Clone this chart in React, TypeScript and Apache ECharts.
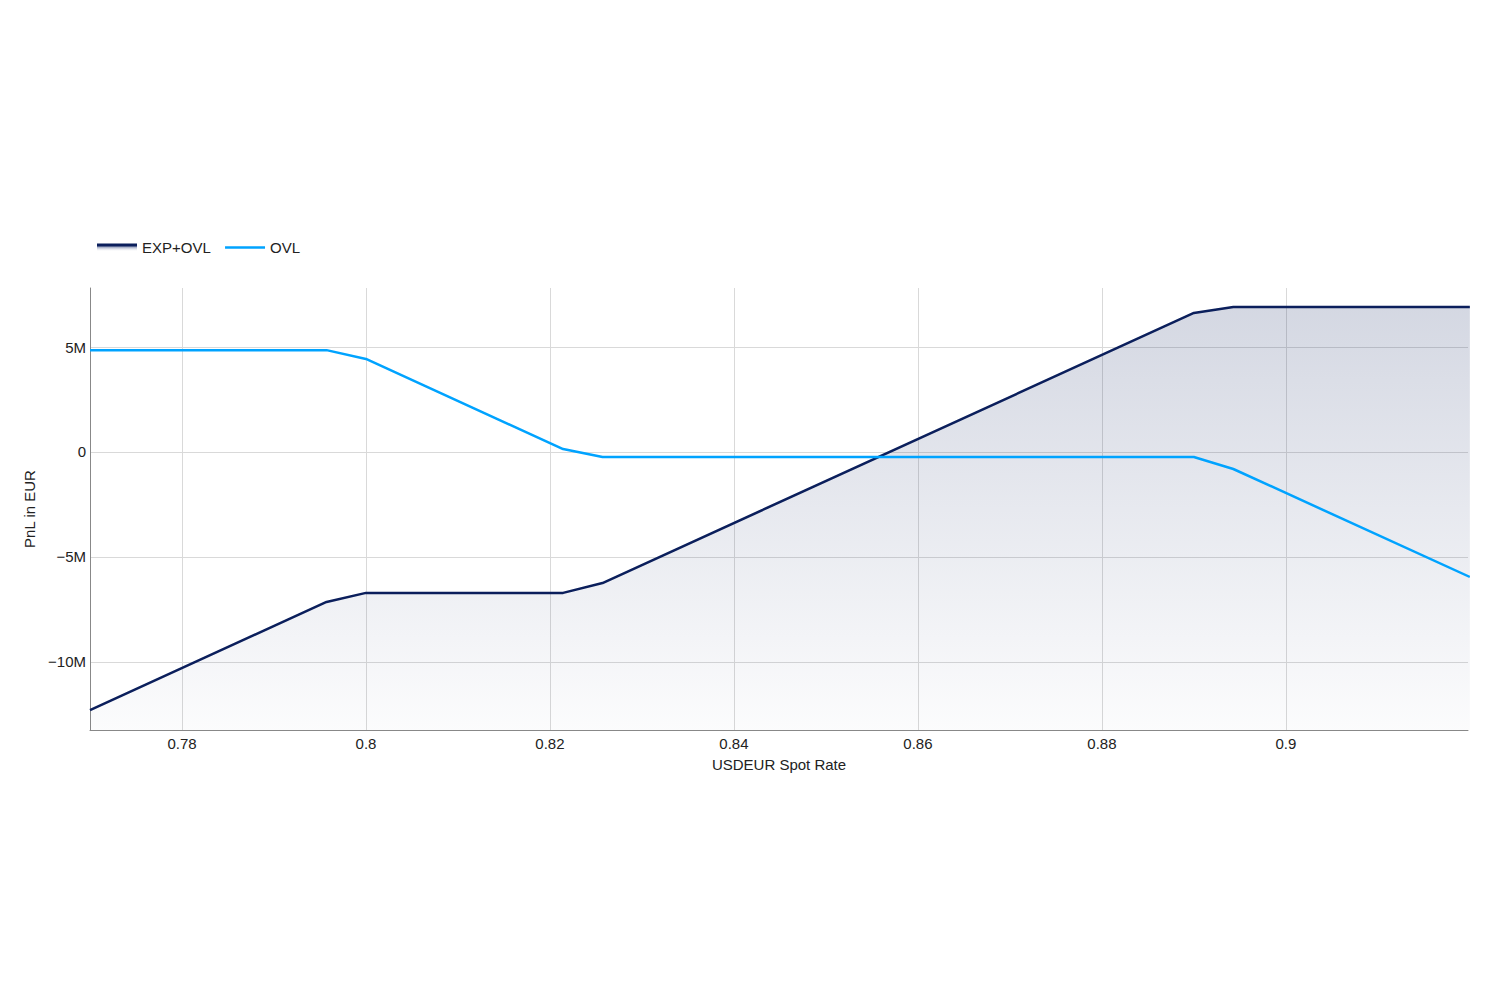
import React, { useEffect, useRef } from "react";
import * as echarts from "echarts";

const spotRates = [0.77, 0.795714, 0.8, 0.821429, 0.825714, 0.89, 0.894286, 0.92];
const expOvlPnl = [-12.29, -7.14, -6.71, -6.71, -6.24, 6.62, 6.9, 6.9]; // millions EUR
const ovlPnl = [4.85, 4.85, 4.43, 0.14, -0.24, -0.24, -0.81, -5.95]; // millions EUR
const xTickValues = [0.78, 0.8, 0.82, 0.84, 0.86, 0.88, 0.9];
const seriesNames = ["EXP+OVL", "OVL"];

const FONT = "'Liberation Sans', Arial, sans-serif";
const DARK = "#0b1f5c";
const LIGHT = "#00a3ff";

export default function App() {
  const ref = useRef<HTMLDivElement>(null);
  useEffect(() => {
    if (!ref.current) return;
    const chart = echarts.init(ref.current, undefined, { renderer: "svg" });
    const toPairs = (vals: number[]) => spotRates.map((x, i) => [x, vals[i] * 1e6]);
    chart.setOption({
      animation: false,
      textStyle: { fontFamily: FONT },
      grid: { left: 90, right: 32, top: 288, bottom: 270, containLabel: false },
      legend: {
        left: 92,
        top: 235,
        itemGap: 13,
        itemWidth: 40,
        itemHeight: 8,
        textStyle: { fontFamily: FONT, fontSize: 15, color: "#222" },
        data: [
          {
            name: seriesNames[0],
            icon: "rect",
            itemStyle: {
              color: new echarts.graphic.LinearGradient(0, 0, 0, 1, [
                { offset: 0, color: DARK },
                { offset: 0.3, color: DARK },
                { offset: 0.45, color: "#9ea7c2" },
                { offset: 1, color: "rgba(255,255,255,0)" },
              ]),
              borderWidth: 0,
            },
          },
          {
            name: seriesNames[1],
            itemStyle: { color: "rgba(0,0,0,0)", borderWidth: 0, opacity: 0 },
            lineStyle: { color: LIGHT, width: 2.5, opacity: 1 },
          },
        ],
      },
      xAxis: {
        type: "value",
        min: 0.77,
        max: 0.9198,
        splitNumber: 7,
        name: "USDEUR Spot Rate",
        nameLocation: "middle",
        nameGap: 27,
        nameTextStyle: { fontFamily: FONT, fontSize: 15, color: "#222" },
        axisLine: { show: true, onZero: false, lineStyle: { color: "#888", width: 1 } },
        axisTick: { show: false },
        axisLabel: {
          fontFamily: FONT,
          fontSize: 15,
          color: "#222",
          margin: 6,
          showMinLabel: false,
          showMaxLabel: false,
          formatter: (v: number) => (xTickValues.some((t) => Math.abs(t - v) < 1e-6) ? String(+v.toFixed(2)) : ""),
        },
        splitLine: { show: true, showMinLine: false, showMaxLine: false, lineStyle: { color: "#d9d9d9", width: 1 } },
      },
      yAxis: {
        type: "value",
        min: -13.24e6,
        max: 7.81e6,
        name: "PnL in EUR",
        nameLocation: "middle",
        nameGap: 52,
        nameTextStyle: { fontFamily: FONT, fontSize: 15, color: "#222" },
        axisLine: { show: true, lineStyle: { color: "#888", width: 1 } },
        axisTick: { show: false },
        axisLabel: {
          fontFamily: FONT,
          fontSize: 15,
          color: "#222",
          margin: 4,
          showMinLabel: false,
          showMaxLabel: false,
          formatter: (v: number) => {
            if (v === 0) return "0";
            const m = Math.round(v / 1e6);
            return (m < 0 ? "\u2212" + Math.abs(m) : String(m)) + "M";
          },
        },
        splitLine: { show: true, showMinLine: false, showMaxLine: false, lineStyle: { color: "#d9d9d9", width: 1 } },
      },
      series: [
        {
          name: seriesNames[0],
          type: "line",
          data: toPairs(expOvlPnl),
          symbol: "none",
          lineStyle: { color: DARK, width: 2.5 },
          itemStyle: { color: DARK },
          areaStyle: {
            origin: "start",
            color: new echarts.graphic.LinearGradient(0, 0, 0, 1, [
              { offset: 0, color: "rgba(11,31,92,0.25)" },
              { offset: 1, color: "rgba(11,31,92,0.02)" },
            ]),
          },
          z: 2,
        },
        {
          name: seriesNames[1],
          type: "line",
          data: toPairs(ovlPnl),
          symbol: "none",
          lineStyle: { color: LIGHT, width: 2.5 },
          itemStyle: { color: LIGHT },
          z: 3,
        },
      ],
    });
    return () => chart.dispose();
  }, []);
  return (
    <div
      ref={ref}
      style={{ position: "absolute", left: 0, top: 0, width: 1500, height: 1000, background: "#fff" }}
    />
  );
}
